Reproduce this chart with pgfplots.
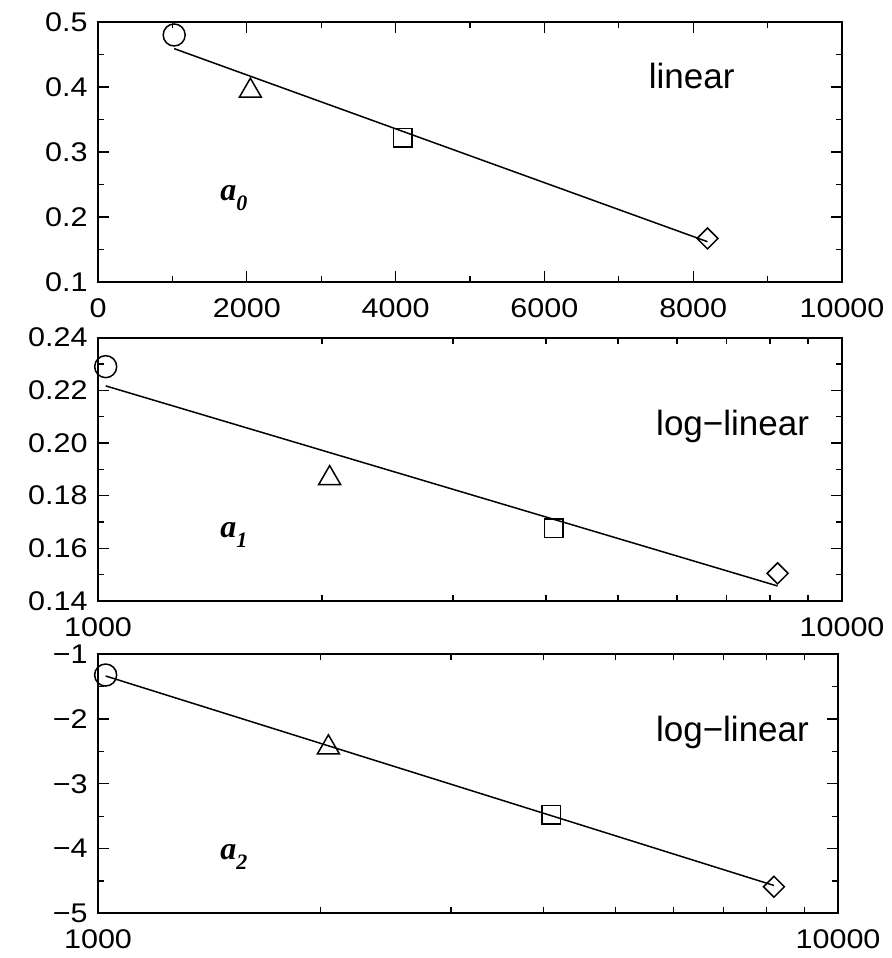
\documentclass[border=0pt]{standalone}
\usepackage{fontspec}
\setmainfont{Liberation Sans}
\newfontfamily\tms{Liberation Serif}
\usepackage{graphicx}
\usepackage{pgfplots}
\pgfplotsset{compat=1.18}

% tick numbers in the reference are a bit wider than Arial
\newcommand\tl[1]{\scalebox{1.13}[1]{#1}}
\newcommand\coef[1]{{\tms\fontsize{16}{16}\selectfont\bfseries\itshape a\raisebox{-5pt}{\fontsize{11}{11}\selectfont #1}}}

\pgfplotsset{
  panel/.style={
    scale only axis,
    width=372pt,
    scaled x ticks=false, scaled y ticks=false,
    axis line style={line width=0.9pt},
    tick style={black, line width=0.6pt},
    major tick length=5.5pt,
    minor tick length=3pt,
    tick align=inside,
    tick label style={font=\fontsize{13.5}{16}\selectfont, inner sep=0pt},
    xticklabel style={anchor=north, yshift=-8pt},
    yticklabel style={anchor=east, xshift=-5pt},
  },
}
\tikzset{
  fitline/.style={black, line width=0.75pt, mark=none},
  pt/.style={black, only marks, line width=0.75pt, mark options={solid, fill=none}},
  lab/.style={font=\fontsize{17.5}{20}\selectfont, anchor=base},
}

\begin{document}
\begin{tikzpicture}
\useasboundingbox (-49pt,-22.35pt) rectangle (396.5pt,456.65pt);

% ---- top: a0, linear
\begin{axis}[panel,
    at={(0pt,315.65pt)}, anchor=south west,
    height=130pt,
    xmin=0, xmax=10000, ymin=0.1, ymax=0.5,
    xtick={0,2000,4000,6000,8000,10000},
    xticklabels={\tl{0},\tl{2000},\tl{4000},\tl{6000},\tl{8000},\tl{10000}},
    ytick={0.1,0.2,0.3,0.4,0.5},
    yticklabels={\tl{0.1},\tl{0.2},\tl{0.3},\tl{0.4},\tl{0.5}},
    minor x tick num=1, minor y tick num=1,
  ]
  \addplot[fitline] coordinates {(1024,0.459) (8192,0.162)};
  \addplot[pt, mark=o, mark size=5.5pt] coordinates {(1024,0.480)};
  \addplot[pt, mark=triangle, mark size=6.35pt] coordinates {(2048,0.394)};
  \addplot[pt, mark=square, mark size=4.6pt] coordinates {(4096,0.322)};
  \addplot[pt, mark=square, mark size=3.7pt, mark options={rotate=45}] coordinates {(8192,0.167)};
  \node[lab] at (axis cs:7980,0.398) {linear};
  \node[anchor=base west, inner sep=0pt] at (axis cs:1640,0.226) {\coef{0}};
\end{axis}

% ---- middle: a1, log-linear
\begin{axis}[panel,
    at={(0pt,156.15pt)}, anchor=south west,
    height=131.65pt,
    xmode=log,
    xmin=1000, xmax=10000, ymin=0.14, ymax=0.24,
    xtick={1000,10000},
    xticklabels={\tl{1000},\tl{10000}},
    minor xtick={2000,3000,4000,5000,6000,7000,8000,9000},
    ytick={0.14,0.16,0.18,0.20,0.22,0.24},
    yticklabels={\tl{0.14},\tl{0.16},\tl{0.18},\tl{0.20},\tl{0.22},\tl{0.24}},
    minor y tick num=1,
  ]
  \addplot[fitline] coordinates {(1024,0.2217) (8192,0.1457)};
  \addplot[pt, mark=o, mark size=5.5pt] coordinates {(1024,0.229)};
  \addplot[pt, mark=triangle, mark size=6.35pt] coordinates {(2048,0.1866)};
  \addplot[pt, mark=square, mark size=4.6pt] coordinates {(4096,0.1677)};
  \addplot[pt, mark=square, mark size=3.7pt, mark options={rotate=45}] coordinates {(8192,0.1505)};
  \node[lab] at (axis cs:7128,0.2027) {log\textminus linear};
  \node[anchor=base west, inner sep=0pt] at (axis cs:1459,0.1642) {\coef{1}};
\end{axis}

% ---- bottom: a2, log-linear
\begin{axis}[panel,
    at={(0pt,0pt)}, anchor=south west,
    width=370pt, height=129.5pt,
    xmode=log,
    xmin=1000, xmax=10000, ymin=-5, ymax=-1,
    xtick={1000,10000},
    xticklabels={\tl{1000},\tl{10000}},
    minor xtick={2000,3000,4000,5000,6000,7000,8000,9000},
    ytick={-5,-4,-3,-2,-1},
    yticklabels={\tl{−5},\tl{−4},\tl{−3},\tl{−2},\tl{−1}},
    minor y tick num=1,
  ]
  \addplot[fitline] coordinates {(1024,-1.335) (8192,-4.57)};
  \addplot[pt, mark=o, mark size=5.5pt] coordinates {(1024,-1.32)};
  \addplot[pt, mark=triangle, mark size=6.35pt] coordinates {(2048,-2.44)};
  \addplot[pt, mark=square, mark size=4.6pt] coordinates {(4096,-3.48)};
  \addplot[pt, mark=square, mark size=3.7pt, mark options={rotate=45}] coordinates {(8192,-4.59)};
  \node[lab] at (axis cs:7201,-2.35) {log\textminus linear};
  \node[anchor=base west, inner sep=0pt] at (axis cs:1462,-4.166) {\coef{2}};
\end{axis}
\end{tikzpicture}
\end{document}
